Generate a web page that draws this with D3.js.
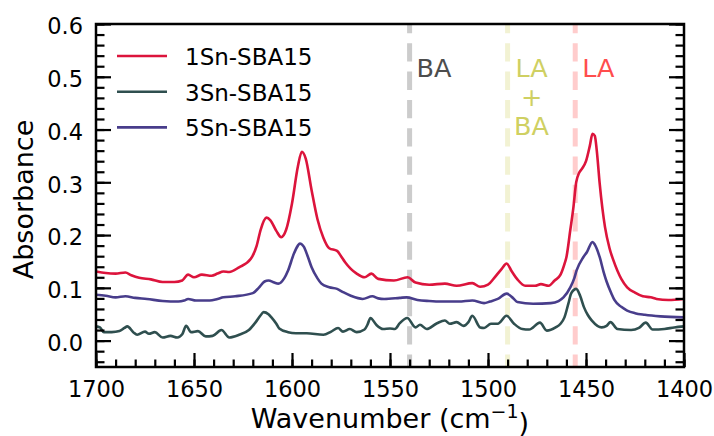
<!DOCTYPE html>
<html>
<head>
<meta charset="utf-8">
<script src="https://cdn.jsdelivr.net/npm/d3@7"></script>
<style>
  body { margin: 0; background: #fff; }
  text { font-family: "DejaVu Sans", sans-serif; }
</style>
</head>
<body>
<svg class="ir-chart"></svg>
<script>
// spectra: [wavenumber, absorbance]
var sn1 = [
  [1700, 0.131], [1695, 0.128], [1690, 0.127], [1685, 0.129], [1682, 0.124], [1678, 0.119],
  [1672, 0.116], [1666, 0.111], [1660, 0.111], [1656, 0.114], [1653, 0.125], [1650, 0.120],
  [1646, 0.125], [1641, 0.123], [1638, 0.127], [1635, 0.131], [1632, 0.130], [1627, 0.139],
  [1621, 0.155], [1618, 0.180], [1616, 0.210], [1613, 0.233], [1611, 0.228], [1608, 0.208],
  [1605.5, 0.196], [1603, 0.210], [1600, 0.260], [1597, 0.330], [1595, 0.358], [1593, 0.345],
  [1590, 0.285], [1587, 0.230], [1584, 0.195], [1581, 0.175], [1577, 0.170], [1575, 0.160],
  [1573, 0.149], [1570, 0.136], [1567, 0.127], [1563, 0.120], [1559.5, 0.127], [1556, 0.117],
  [1548, 0.114], [1541, 0.120], [1537, 0.110], [1530, 0.106], [1522, 0.108], [1516, 0.104],
  [1508, 0.109], [1504, 0.102], [1500, 0.106], [1497, 0.118], [1493, 0.136], [1490.5, 0.146],
  [1488, 0.132], [1485, 0.116], [1481, 0.104], [1476, 0.104], [1473, 0.107], [1469, 0.104],
  [1466, 0.114], [1463, 0.125], [1461, 0.145], [1460, 0.158], [1458, 0.210], [1456.5, 0.250],
  [1455, 0.300], [1453.5, 0.318], [1452, 0.326], [1450, 0.340], [1448, 0.370], [1446.7, 0.392],
  [1445.5, 0.388], [1444.5, 0.360], [1443, 0.297], [1440.3, 0.215], [1438, 0.175], [1436, 0.152],
  [1432, 0.117], [1429, 0.101], [1425, 0.091], [1421, 0.084], [1417, 0.082], [1414, 0.079],
  [1408, 0.077], [1400, 0.079]
];

var sn3 = [
  [1700, 0.027], [1698, 0.025], [1696, 0.016], [1692, 0.016], [1688, 0.018], [1685.5, 0.024],
  [1684, 0.027], [1681, 0.016], [1679, 0.011], [1675, 0.017], [1673, 0.013], [1670, 0.016],
  [1666, 0.006], [1662, 0.009], [1658.5, 0.006], [1656, 0.012], [1654, 0.028], [1651.5, 0.016],
  [1648, 0.018], [1644, 0.008], [1640.5, 0.009], [1636, 0.020], [1632, 0.006], [1627, 0.011],
  [1622, 0.020], [1618.5, 0.035], [1616, 0.048], [1614.5, 0.054], [1612, 0.050], [1610.5, 0.044],
  [1608, 0.032], [1606.5, 0.023], [1602, 0.016], [1598, 0.014], [1592.5, 0.014], [1584, 0.011],
  [1580, 0.017], [1576.5, 0.024], [1574, 0.017], [1570.5, 0.022], [1567, 0.016], [1563, 0.021],
  [1561.5, 0.030], [1560, 0.043], [1557, 0.030], [1553.5, 0.022], [1550, 0.023], [1547.5, 0.022],
  [1545, 0.033], [1541.2, 0.043], [1537, 0.025], [1534.7, 0.030], [1531.3, 0.022], [1526, 0.033],
  [1522, 0.038], [1519.5, 0.032], [1516, 0.035], [1512.5, 0.028], [1510, 0.035], [1508, 0.047],
  [1504, 0.025], [1502, 0.024], [1498.5, 0.032], [1495, 0.032], [1490.5, 0.047], [1486.7, 0.032],
  [1482.5, 0.022], [1479, 0.021], [1473.5, 0.034], [1470, 0.019], [1465.5, 0.025], [1463, 0.032],
  [1461, 0.044], [1459, 0.070], [1457.5, 0.090], [1455, 0.098], [1453, 0.085], [1451, 0.063],
  [1449, 0.048], [1447, 0.038], [1442, 0.025], [1439.5, 0.028], [1437.5, 0.035], [1434, 0.022],
  [1427, 0.020], [1423, 0.024], [1419.5, 0.034], [1416, 0.021], [1410, 0.022], [1405, 0.025],
  [1400, 0.027]
];

var sn5 = [
  [1700, 0.087], [1695, 0.085], [1690, 0.082], [1685, 0.084], [1680, 0.081], [1674, 0.079],
  [1666, 0.075], [1658, 0.074], [1655, 0.076], [1653, 0.079], [1649, 0.076], [1642, 0.076],
  [1638, 0.079], [1635, 0.082], [1629, 0.084], [1620, 0.090], [1617, 0.100], [1614, 0.112],
  [1612, 0.114], [1609, 0.110], [1607, 0.108], [1604, 0.118], [1602, 0.133], [1599, 0.165],
  [1597, 0.180], [1596, 0.184], [1594, 0.178], [1592, 0.160], [1590, 0.139], [1587, 0.118],
  [1585, 0.108], [1581, 0.101], [1577, 0.098], [1574, 0.092], [1570, 0.085], [1564, 0.079],
  [1559, 0.084], [1556, 0.080], [1553, 0.079], [1545, 0.081], [1541.5, 0.082], [1536, 0.077],
  [1530, 0.075], [1524, 0.074], [1515, 0.074], [1508, 0.076], [1502, 0.071], [1499, 0.074],
  [1495, 0.079], [1490.5, 0.089], [1487, 0.080], [1485, 0.073], [1477, 0.070], [1468, 0.071],
  [1464, 0.075], [1461.5, 0.082], [1458, 0.101], [1456, 0.118], [1454.8, 0.133], [1451.4, 0.158],
  [1449.5, 0.168], [1446.7, 0.187], [1445.5, 0.182], [1443, 0.158], [1441, 0.130], [1439.5, 0.112],
  [1437, 0.089], [1435.5, 0.077], [1432, 0.064], [1429, 0.057], [1425, 0.052], [1420, 0.049],
  [1412, 0.046], [1400, 0.044]
];

var seriesNames = ["1Sn-SBA15", "3Sn-SBA15", "5Sn-SBA15"];
var seriesColors = ["crimson", "darkslategray", "darkslateblue"];

var xTicks = [1700, 1650, 1600, 1550, 1500, 1450, 1400];
var yTicks = [0.0, 0.1, 0.2, 0.3, 0.4, 0.5, 0.6];

// marker lines: position, label lines, text colour, line colour
var markerPos = [1540, 1490, 1455.5];
var markerLabels = [["BA"], ["LA", "+", "BA"], ["LA"]];
var markerText = ["#4d4d4d", "#cfd062", "#ff4d4d"];
var markerLine = ["#cccccc", "#f2f2d3", "#ffcccc"];

var margin = {top: 24, right: 30, bottom: 69, left: 96};
var width = 714 - margin.left - margin.right;
var height = 436 - margin.top - margin.bottom;

var x = d3.scaleLinear().domain([1700, 1400]).range([0, width]);
var y = d3.scaleLinear().domain([-0.05, 0.6]).range([height, 0]);

var svg = d3.select(".ir-chart")
  .attr("width", width + margin.left + margin.right)
  .attr("height", height + margin.top + margin.bottom);

var chart = svg.append("g")
  .attr("transform", "translate(" + margin.left + "," + margin.top + ")");

// dashed marker lines
markerPos.forEach(function(p, i) {
  chart.append("line")
    .attr("x1", x(p)).attr("x2", x(p))
    .attr("y1", y(0.6)).attr("y2", y(-0.05))
    .attr("stroke", markerLine[i])
    .attr("stroke-width", 5)
    .attr("stroke-dasharray", "18.3,10")
    .attr("stroke-dashoffset", 9);
});

var labelX = [x(1540) + 7, x(1490) + 24, x(1455.5) + 7];
markerLabels.forEach(function(lines, i) {
  var t = chart.append("text")
    .attr("fill", markerText[i])
    .style("font-size", "25.5px")
    .attr("text-anchor", lines.length > 1 ? "middle" : "start");
  lines.forEach(function(s, j) {
    t.append("tspan")
      .attr("x", labelX[i])
      .attr("y", 53 + j * 29)
      .text(s);
  });
});

// spectra
var line = d3.line()
  .x(function(d) { return x(d[0]); })
  .y(function(d) { return y(d[1]); })
  .curve(d3.curveMonotoneX);

[sn1, sn3, sn5].forEach(function(s, i) {
  chart.append("path")
    .datum(s)
    .attr("fill", "none")
    .attr("stroke", seriesColors[i])
    .attr("stroke-width", 2.6)
    .attr("stroke-linejoin", "round")
    .attr("d", line);
});

// axes, ticks pointing inward
var xMinor = d3.range(1700, 1399, -10);
var yMinor = d3.range(-0.04, 0.601, 0.02);

chart.append("g")
  .attr("class", "x minor")
  .attr("transform", "translate(0," + height + ")")
  .call(d3.axisBottom(x).tickValues(xMinor).tickSize(-7.5).tickFormat(""));

chart.append("g")
  .attr("class", "x axis")
  .attr("transform", "translate(0," + height + ")")
  .call(d3.axisBottom(x).tickValues(xTicks).tickSize(-14).tickPadding(14).tickFormat(d3.format("d")));

chart.append("g")
  .attr("class", "y minor")
  .call(d3.axisLeft(y).tickValues(yMinor).tickSize(-8.5).tickFormat(""));

chart.append("g")
  .attr("class", "y axis")
  .call(d3.axisLeft(y).tickValues(yTicks).tickSize(-15).tickPadding(13).tickFormat(d3.format(".1f")));

chart.append("g")
  .attr("class", "y minor")
  .attr("transform", "translate(" + width + ",0)")
  .call(d3.axisRight(y).tickValues(yMinor).tickSize(-8.5).tickFormat(""));

chart.append("g")
  .attr("class", "y right")
  .attr("transform", "translate(" + width + ",0)")
  .call(d3.axisRight(y).tickValues(yTicks).tickSize(-15).tickFormat(""));

chart.selectAll(".domain").remove();
chart.selectAll(".tick line").attr("stroke", "#000").attr("stroke-width", 2.2);
chart.selectAll(".axis text")
  .style("font-size", "22.5px")
  .attr("fill", "#000");
chart.selectAll(".y.axis text").attr("dy", "0.44em");

chart.append("rect")
  .attr("width", width)
  .attr("height", height)
  .attr("fill", "none")
  .attr("stroke", "#000")
  .attr("stroke-width", 2.5);

// axis titles
var xLabel = chart.append("text")
  .attr("x", width / 2)
  .attr("y", height + 61)
  .attr("text-anchor", "middle")
  .style("font-size", "27px")
  .text("Wavenumber (cm");
xLabel.append("tspan")
  .attr("dy", "-0.55em")
  .style("font-size", "19px")
  .text("\u22121");
xLabel.append("tspan")
  .attr("dy", "0.55em")
  .text(")");

chart.append("text")
  .attr("transform", "rotate(-90)")
  .attr("x", -(height / 2) - 4)
  .attr("y", 33 - margin.left)
  .attr("text-anchor", "middle")
  .style("font-size", "27px")
  .text("Absorbance");

// legend
var legend = chart.append("g").attr("transform", "translate(21,32)");
seriesNames.forEach(function(name, i) {
  var row = legend.append("g").attr("transform", "translate(0," + (i * 35.7) + ")");
  row.append("line")
    .attr("x1", 0).attr("x2", 50)
    .attr("stroke", seriesColors[i])
    .attr("stroke-width", 2.6);
  row.append("text")
    .attr("x", 68)
    .attr("y", 9)
    .style("font-size", "23px")
    .text(name);
});
</script>
</body>
</html>
